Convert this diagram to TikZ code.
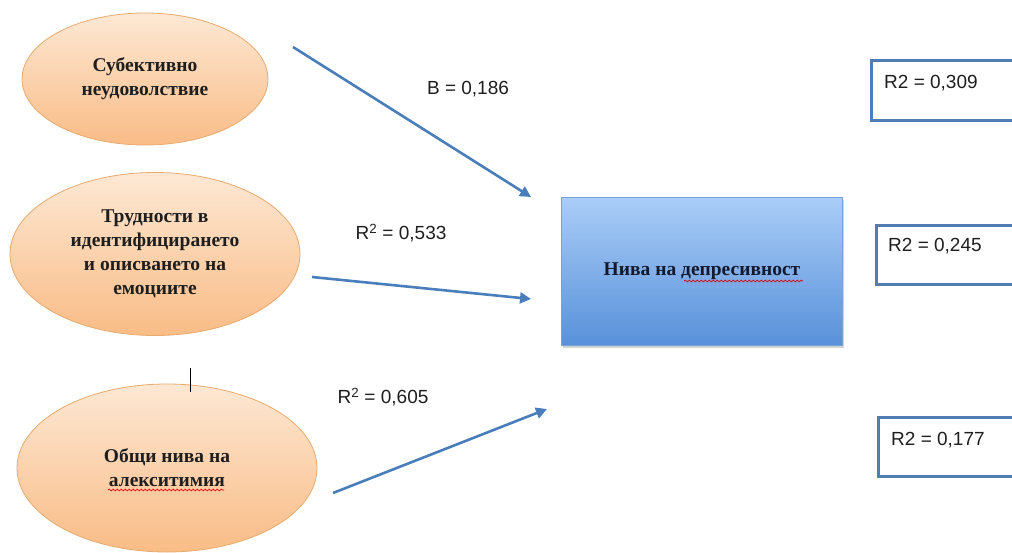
\documentclass[tikz,border=0pt]{standalone}
\usepackage{fontspec}
\setmainfont{Liberation Serif}
\newfontfamily\lab{Liberation Sans}
\usetikzlibrary{arrows.meta,decorations.pathmorphing,shadows,shapes.geometric}
\definecolor{arrowblue}{RGB}{74,126,187}
\definecolor{peachtop}{RGB}{253,232,212}
\definecolor{peachbot}{RGB}{249,188,134}
\definecolor{peachline}{RGB}{232,170,110}
\definecolor{boxtop}{RGB}{170,205,248}
\definecolor{boxbot}{RGB}{88,145,218}
\definecolor{boxline}{RGB}{120,160,210}
\definecolor{rbox}{RGB}{79,125,180}
\definecolor{txt}{RGB}{30,30,30}
\tikzset{
  factor/.style={ellipse, draw=peachline, line width=0.8pt, top color=peachtop, bottom color=peachbot,
    inner sep=0pt, align=center, font=\fontsize{19.5}{24}\selectfont\bfseries, text=txt},
  outcome/.style={rectangle, draw=boxline, line width=0.6pt, top color=boxtop, bottom color=boxbot,
    drop shadow={shadow xshift=1pt, shadow yshift=-3pt, opacity=0.35},
    font=\fontsize{19.5}{22}\selectfont\bfseries, text={rgb,255:red,20;green,25;blue,45}},
  pathline/.style={draw=arrowblue, line width=2.6pt, -{Triangle[length=11pt,width=11pt]}},
  coef/.style={font=\lab\fontsize{19}{22}\selectfont, text=txt, inner sep=0pt},
  rsq/.style={draw=rbox, line width=3pt, minimum width=160pt, anchor=north west},
  rsqtext/.style={font=\lab\fontsize{19}{22}\selectfont, text=txt, anchor=west, inner sep=0pt},
  squiggle/.style={draw=red!85!black, line width=0.7pt, decorate, decoration={snake, amplitude=0.9pt, segment length=4pt}}
}
\begin{document}
\begin{tikzpicture}[x=1pt,y=-1pt]
\useasboundingbox (0,0) rectangle (1012,552);
\clip (0,0) rectangle (1012,552);
% ellipses
\node[factor, minimum width=246pt, minimum height=132pt] (e1) at (145,79) {Субективно\\неудоволствие};
\node[factor, minimum width=290pt, minimum height=163pt] (e2) at (155,254) {Трудности в\\идентифицирането\\и описването на\\емоциите};
\node[factor, minimum width=300pt, minimum height=168pt] (e3) at (167,468) {Общи нива на\\алекситимия};
% outcome box
\node[outcome, minimum width=281pt, minimum height=148pt] (dep) at (702,271) {Нива на депресивност};
% squiggles under misspelled words
\coordinate (s1a) at (108,490);
\coordinate (s1b) at (224,490);
\draw[squiggle] (s1a) -- (s1b);
\coordinate (s2a) at (684,281);
\coordinate (s2b) at (803,281);
\draw[squiggle] (s2a) -- (s2b);
% cursor mark
\coordinate (c1) at (190,368);
\coordinate (c2) at (190,392);
\draw[line width=0.8pt, black] (c1) -- (c2);
% arrows
\coordinate (a1s) at (293,47);
\coordinate (a1e) at (531,197);
\coordinate (a2s) at (312,277);
\coordinate (a2e) at (531,299);
\coordinate (a3s) at (333,493);
\coordinate (a3e) at (547,409);
\draw[pathline] (a1s) -- (a1e);
\draw[pathline] (a2s) -- (a2e);
\draw[pathline] (a3s) -- (a3e);
% coefficients
\node[coef] (l1) at (468,89) {B = 0,186};
\node[coef] (l2) at (401,233) {R\textsuperscript{2} = 0,533};
\node[coef] (l3) at (383,397) {R\textsuperscript{2} = 0,605};
% R2 boxes
\node[rsq, minimum height=60pt] (r1) at (870,59) {};
\node[rsqtext] (t1) at (884,83) {R2 = 0,309};
\node[rsq, minimum height=59pt] (r2) at (875,224) {};
\node[rsqtext] (t2) at (888,246) {R2 = 0,245};
\node[rsq, minimum height=59pt] (r3) at (877,416) {};
\node[rsqtext] (t3) at (891,440) {R2 = 0,177};
\end{tikzpicture}
\end{document}
